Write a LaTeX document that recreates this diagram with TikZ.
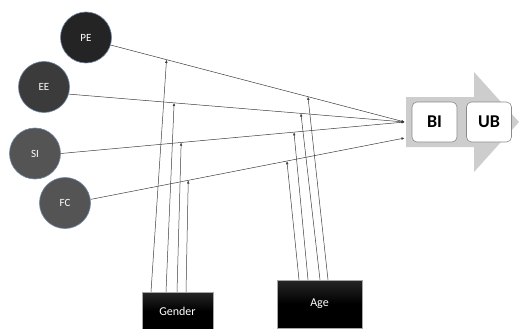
\documentclass[tikz,border=0pt]{standalone}
\usepackage{fontspec}
\setmainfont{Carlito}
\usetikzlibrary{arrows.meta,calc}
\definecolor{lineC}{HTML}{3C3C3C}
\definecolor{rimC}{HTML}{6F86A8}
\definecolor{bigArrow}{HTML}{CDCDCD}
\definecolor{boxRim}{HTML}{8A8A8A}
\tikzset{
  construct/.style={circle, minimum size=51pt, inner sep=0pt, draw=rimC, line width=0.6pt,
    text=white, font=\fontsize{11}{12}\selectfont},
  moderator/.style={rectangle, inner sep=0pt, draw=gray!70, line width=0.5pt,
    top color=black!85, bottom color=black, middle color=black,
    text=white, font=\fontsize{12}{13}\selectfont},
  outcome/.style={rectangle, rounded corners=5pt, draw=boxRim, line width=0.6pt, fill=white,
    minimum width=45pt, minimum height=40pt, inner sep=0pt,
    font=\fontsize{18}{20}\selectfont\bfseries},
  linkpath/.style={draw=lineC, line width=0.5pt, -{Latex[length=3.2pt,width=2.6pt]}},
}
\begin{document}
\begin{tikzpicture}[x=1pt,y=-1pt]
\useasboundingbox (0,0) rectangle (519,329);

% broad grey process arrow behind the outcome boxes
\fill[bigArrow] (406,97) -- (474,97) -- (474,72) -- (519,122) -- (474,172) -- (474,147) -- (406,147) -- cycle;

% outcomes
\node[outcome] (bi) at (434.5,122) {BI};
\node[outcome] (ub) at (489,122) {UB};

% constructs
\node[construct, fill=black!86] (pe) at (86,37.5) {PE};
\node[construct, fill=black!77] (ee) at (44,87) {EE};
\node[construct, fill=black!67] (si) at (35,153.5) {SI};
\node[construct, fill=black!67] (fc) at (65,203) {FC};

% moderators
\node[moderator, minimum width=71pt, minimum height=38pt] (gender) at (177.5,311) {\raisebox{-1pt}{Gender}};
\node[moderator, minimum width=85pt, minimum height=48pt] (age) at (319.5,304) {Age};

% entry points on the left edge of BI
\coordinate (inA) at ($(bi.west)+(-7,0)$);
\coordinate (inB) at ($(bi.west)+(-7,16)$);

% direct paths, with the points where the moderators act
\path[linkpath] (pe.-17) -- (inA) coordinate[pos=0.19] (gPE) coordinate[pos=0.671] (aPE);
\path[linkpath] (ee.-16) -- (inA) coordinate[pos=0.3135] (gEE) coordinate[pos=0.691] (aEE);
\path[linkpath] (si.0) -- (inA) coordinate[pos=0.35] (gSI) coordinate[pos=0.678] (aSI);
\path[linkpath] (fc.8) -- (inB) coordinate[pos=0.311] (gFC) coordinate[pos=0.625] (aFC);

% moderating effect of gender
\draw[linkpath] ($(gender.north)+(-26.5,0)$) -- (gPE);
\draw[linkpath] ($(gender.north)+(-11.5,0)$) -- (gEE);
\draw[linkpath] ($(gender.north)+(-0.5,0)$) -- (gSI);
\draw[linkpath] ($(gender.north)+(8.5,0)$) -- (gFC);

% moderating effect of age
\draw[linkpath] ($(age.north)+(8.5,0)$) -- (aPE);
\draw[linkpath] ($(age.north)+(0.5,0)$) -- (aEE);
\draw[linkpath] ($(age.north)+(-11.5,0)$) -- (aSI);
\draw[linkpath] ($(age.north)+(-20.5,0)$) -- (aFC);
\end{tikzpicture}
\end{document}
